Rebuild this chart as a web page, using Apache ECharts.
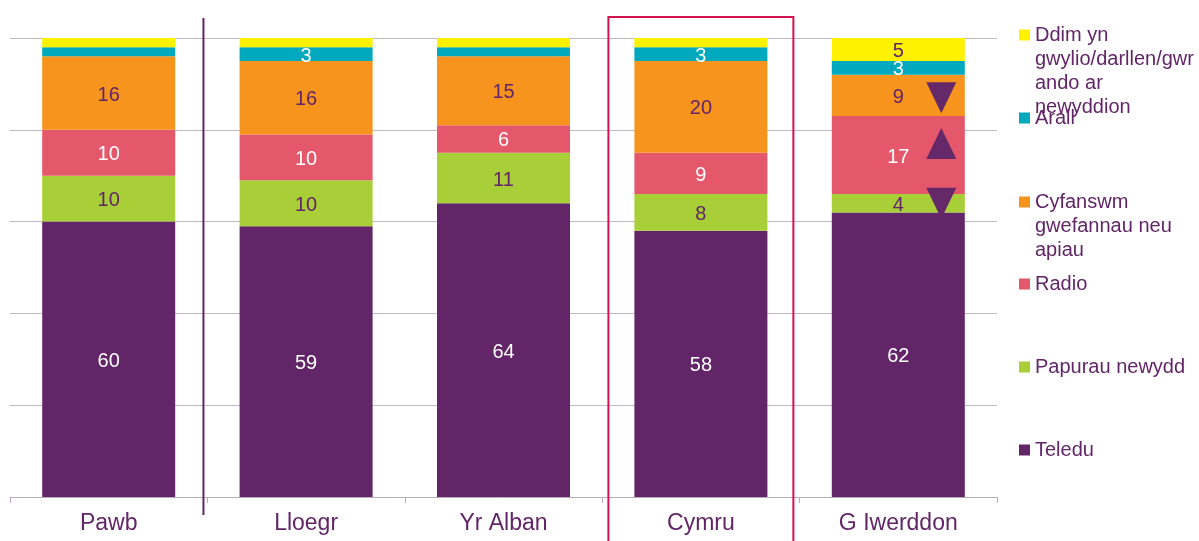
<!DOCTYPE html>
<html>
<head>
<meta charset="utf-8">
<title>Prif ffynhonnell newyddion</title>
<script src="https://cdn.jsdelivr.net/npm/echarts@6/dist/echarts.min.js"></script>
<style>
html, body { margin: 0; padding: 0; background: #fff; }
#main { width: 1199px; height: 541px; }
</style>
</head>
<body>
<div id="main"></div>
<script>
// data
var categories = ['Pawb', 'Lloegr', 'Yr Alban', 'Cymru', 'G Iwerddon'];
var teledu    = [60, 59, 64, 58, 62];
var papurau   = [10, 10, 11, 8, 4];
var radio     = [10, 10, 6, 9, 17];
var gwefannau = [16, 16, 15, 20, 9];
var arall     = [2, 3, 2, 3, 3];
var ddim      = [2, 2, 2, 2, 5];
// change markers (G Iwerddon)
var markerCats   = ['G Iwerddon', 'G Iwerddon', 'G Iwerddon'];
var markerValues = [87, 77, 64];
var markerDir    = ['down', 'up', 'down'];

var FONT = 'Liberation Sans, Arial, sans-serif';
var PURPLE = '#622567';

var chart = echarts.init(document.getElementById('main'));

function barSeries(name, data, color, labelColor) {
    return {
        name: name,
        type: 'bar',
        stack: 'total',
        barWidth: 133,
        data: data,
        itemStyle: { color: color },
        label: {
            show: true,
            position: 'inside',
            offset: [0, 2],
            color: labelColor,
            fontSize: 20,
            fontFamily: FONT,
            formatter: function (p) { return p.value >= 3 ? p.value : ''; }
        }
    };
}

// one legend per item so the spacing matches the picture.
// the text is centred on the icon, so blank lines are put in front
// to bring the first line level with the icon
function legendItem(name, iconY) {
    var lh = 24;
    var lines = name.split('\n').length;
    var lead = new Array(lines).join('\n');
    return {
        data: [name],
        orient: 'vertical',
        left: 1019,
        top: iconY - (2 * lines - 1) * lh / 2,
        padding: 0,
        icon: 'rect',
        itemWidth: 11,
        itemHeight: 11,
        selectedMode: false,
        formatter: function (n) { return lead + n; },
        textStyle: {
            color: PURPLE,
            fontSize: 20,
            fontFamily: FONT,
            lineHeight: lh
        }
    };
}

var nDdim = 'Ddim yn\ngwylio/darllen/gwr\nando ar\nnewyddion';
var nGwef = 'Cyfanswm\ngwefannau neu\napiau';

var markerData = markerValues.map(function (v, i) {
    return {
        value: [markerCats[i], v],
        symbolRotate: markerDir[i] === 'down' ? 180 : 0
    };
});

var option = {
    animation: false,
    textStyle: { fontFamily: FONT },
    grid: { left: 10, right: 202, top: 38, bottom: 44 },
    legend: [
        legendItem(nDdim, 35),
        legendItem('Arall', 118),
        legendItem(nGwef, 202),
        legendItem('Radio', 284),
        legendItem('Papurau newydd', 367),
        legendItem('Teledu', 450)
    ],
    xAxis: {
        type: 'category',
        data: categories,
        axisLine: { lineStyle: { color: '#b9abbc', width: 1 } },
        axisTick: { show: true, length: 6, lineStyle: { color: '#b9abbc' } },
        axisLabel: { color: PURPLE, fontSize: 23, fontFamily: FONT, margin: 15 }
    },
    yAxis: {
        type: 'value',
        min: 0,
        max: 100,
        interval: 20,
        axisLine: { show: false },
        axisTick: { show: false },
        axisLabel: { show: false },
        splitLine: { lineStyle: { color: '#c3b6c6', width: 1 } }
    },
    series: [
        barSeries('Teledu', teledu, PURPLE, '#ffffff'),
        barSeries('Papurau newydd', papurau, '#a8cf38', PURPLE),
        barSeries('Radio', radio, '#e5576a', '#ffffff'),
        barSeries(nGwef, gwefannau, '#f6941e', PURPLE),
        barSeries('Arall', arall, '#00a9bd', '#ffffff'),
        barSeries(nDdim, ddim, '#fff200', PURPLE),
        {
            name: 'newid',
            type: 'scatter',
            symbol: 'triangle',
            symbolSize: [30, 31],
            symbolOffset: [43, 0],
            itemStyle: { color: '#652869', opacity: 1 },
            z: 5,
            data: markerData
        }
    ]
};

chart.setOption(option);

// decorations: divider after "Pawb" and frame round "Cymru"
var pawbX = chart.convertToPixel({ xAxisIndex: 0 }, 'Pawb');
var band = chart.convertToPixel({ xAxisIndex: 0 }, 'Lloegr') - pawbX;
var cymruX = chart.convertToPixel({ xAxisIndex: 0 }, 'Cymru');
var frameW = band * 0.937;

chart.setOption({
    graphic: [
        {
            type: 'line',
            shape: { x1: pawbX + band * 0.48, y1: 18, x2: pawbX + band * 0.48, y2: 515 },
            style: { stroke: PURPLE, lineWidth: 2 },
            z: 10
        },
        {
            type: 'rect',
            shape: { x: cymruX - frameW / 2, y: 17, width: frameW, height: 600 },
            style: { fill: 'none', stroke: '#d3134f', lineWidth: 2 },
            z: 10
        }
    ]
});
</script>
</body>
</html>
